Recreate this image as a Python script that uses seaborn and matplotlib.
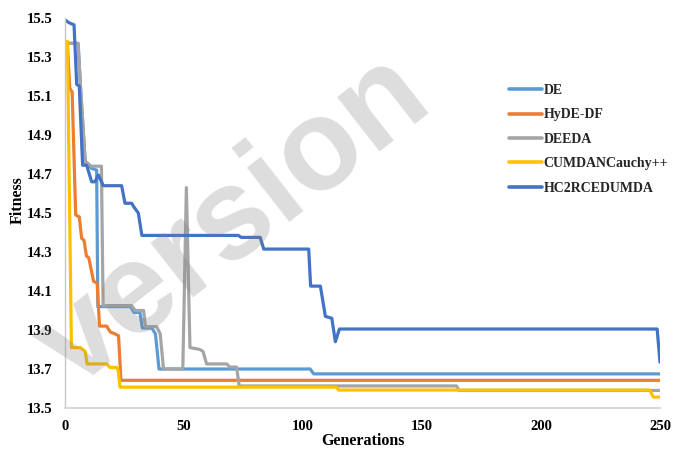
import numpy as np
import pandas as pd
import matplotlib
matplotlib.use("Agg")
import matplotlib.pyplot as plt
import seaborn as sns

# ---- data (vertices) ----
series_names = ["DE", "HyDE-DF", "DEEDA", "CUMDANCauchy++", "HC2RCEDUMDA"]
colors = ["#5B9BD5", "#ED7D31", "#A5A5A5", "#FFC000", "#4472C4"]

de_gen = [0, 5.5, 6.5, 8.5, 9, 11, 13.3, 13.8, 27.5, 29, 31.5, 32.5, 36.5, 38, 39.5, 103, 104.5, 250]
de_fit = [15.37, 15.37, 15.15, 14.76, 14.76, 14.73, 14.72, 14.02, 14.02, 13.99, 13.99, 13.91, 13.91, 13.88, 13.70, 13.70, 13.675, 13.675]

hyde_gen = [0, 1, 2, 3, 4.5, 6, 7, 8, 9, 10, 12, 13.5, 14.5, 17.5, 19, 21, 22.5, 23.5, 250]
hyde_fit = [15.37, 15.37, 15.14, 15.12, 14.49, 14.48, 14.37, 14.36, 14.28, 14.27, 14.15, 14.14, 13.92, 13.92, 13.89, 13.88, 13.87, 13.642, 13.642]

deeda_gen = [0, 5.5, 6.5, 8.5, 9, 11, 15.3, 16, 28, 29.5, 33, 33.8, 38.5, 40, 41.4, 49.5, 51, 52.5, 56.7, 58, 59.5, 67.9, 69.3, 72.1, 73.2, 164.5, 165.5, 250]
deeda_fit = [15.37, 15.37, 15.15, 14.76, 14.76, 14.74, 14.74, 14.025, 14.025, 14.0, 14.0, 13.917, 13.917, 13.88, 13.70, 13.70, 14.63, 13.81, 13.80, 13.79, 13.726, 13.726, 13.71, 13.71, 13.613, 13.613, 13.59, 13.59]

cumdan_gen = [0, 1, 2.7, 6.5, 7.5, 8.5, 9.3, 17.5, 18.9, 21.7, 22.4, 23.1, 114, 115, 245.7, 247.2, 250]
cumdan_fit = [15.38, 15.38, 13.81, 13.81, 13.80, 13.79, 13.726, 13.726, 13.708, 13.708, 13.69, 13.607, 13.607, 13.592, 13.592, 13.556, 13.556]

hc2_gen = [0, 1.8, 3.8, 4.9, 6.0, 7.4, 9.1, 11.2, 12.6, 14.0, 16.1, 23.8, 25.2, 28, 29, 30.8, 32.3, 72.9, 74, 82, 83.5, 102.4, 103.2, 107.3, 109.4, 112.1, 113.6, 115.3, 248.8, 250]
hc2_fit = [15.49, 15.475, 15.465, 15.16, 15.15, 14.745, 14.745, 14.66, 14.66, 14.695, 14.64, 14.64, 14.55, 14.55, 14.53, 14.50, 14.385, 14.385, 14.375, 14.375, 14.315, 14.315, 14.125, 14.125, 13.97, 13.96, 13.84, 13.905, 13.905, 13.735]

x_ticks = [0, 50, 100, 150, 200, 250]
y_ticks = [13.5, 13.7, 13.9, 14.1, 14.3, 14.5, 14.7, 14.9, 15.1, 15.3, 15.5]

all_gen = [de_gen, hyde_gen, deeda_gen, cumdan_gen, hc2_gen]
all_fit = [de_fit, hyde_fit, deeda_fit, cumdan_fit, hc2_fit]

frames = []
for name, g, f in zip(series_names, all_gen, all_fit):
    frames.append(pd.DataFrame({"Generations": g, "Fitness": f, "Algorithm": name}))
df = pd.concat(frames, ignore_index=True)

sns.set_theme(style="white")
plt.rcParams["font.family"] = ["Liberation Serif", "DejaVu Serif"]

fig = plt.figure(figsize=(6.86, 4.51), dpi=100)
ax = fig.add_axes([65 / 686, 1 - 408 / 451, 595 / 686, 390 / 451])

sns.lineplot(data=df, x="Generations", y="Fitness", hue="Algorithm",
             hue_order=series_names, palette=colors, estimator=None,
             sort=False, linewidth=2.3, ax=ax)

ax.set_xlim(0, 250)
ax.set_ylim(13.5, 15.5)
ax.set_xticks(x_ticks)
ax.set_yticks(y_ticks)
ax.set_yticklabels([f"{v:.1f}" for v in y_ticks])
ax.tick_params(axis="both", length=0, labelsize=10.5, pad=9)
for lab in ax.get_xticklabels() + ax.get_yticklabels():
    lab.set_fontweight("bold")
    lab.set_color("black")

for side in ["top", "right"]:
    ax.spines[side].set_visible(False)
ax.spines["left"].set_color("#C8C8C8")
ax.spines["bottom"].set_color("#D9D9D9")
ax.spines["left"].set_linewidth(1.0)
ax.spines["bottom"].set_linewidth(1.5)

ax.set_xlabel("Generations", fontsize=11.5, fontweight="bold", color="black")
ax.set_ylabel("Fitness", fontsize=11.5, fontweight="bold", color="black")
ax.xaxis.label.set_va("center")
ax.yaxis.label.set_va("center")
ax.yaxis.set_label_coords(-0.079, 0.533)
ax.xaxis.set_label_coords(0.5, -0.085)

leg = ax.legend(loc="upper left", bbox_to_anchor=(509 / 686, 1 - 84 / 451),
                bbox_transform=fig.transFigure, frameon=False, borderpad=0,
                borderaxespad=0, handlelength=2.35, handletextpad=0.15,
                labelspacing=0.82, prop={"family": "Liberation Serif", "weight": "bold", "size": 10})
for line in leg.get_lines():
    line.set_linewidth(2.6)

# watermark
fig.text(234 / 686, 1 - 222 / 451, "version", fontsize=93, family="Liberation Sans",
         fontweight="bold", color=(0.5, 0.5, 0.5), alpha=0.27, rotation=38,
         ha="center", va="center", zorder=10)

fig.savefig("out.png", dpi=100)
